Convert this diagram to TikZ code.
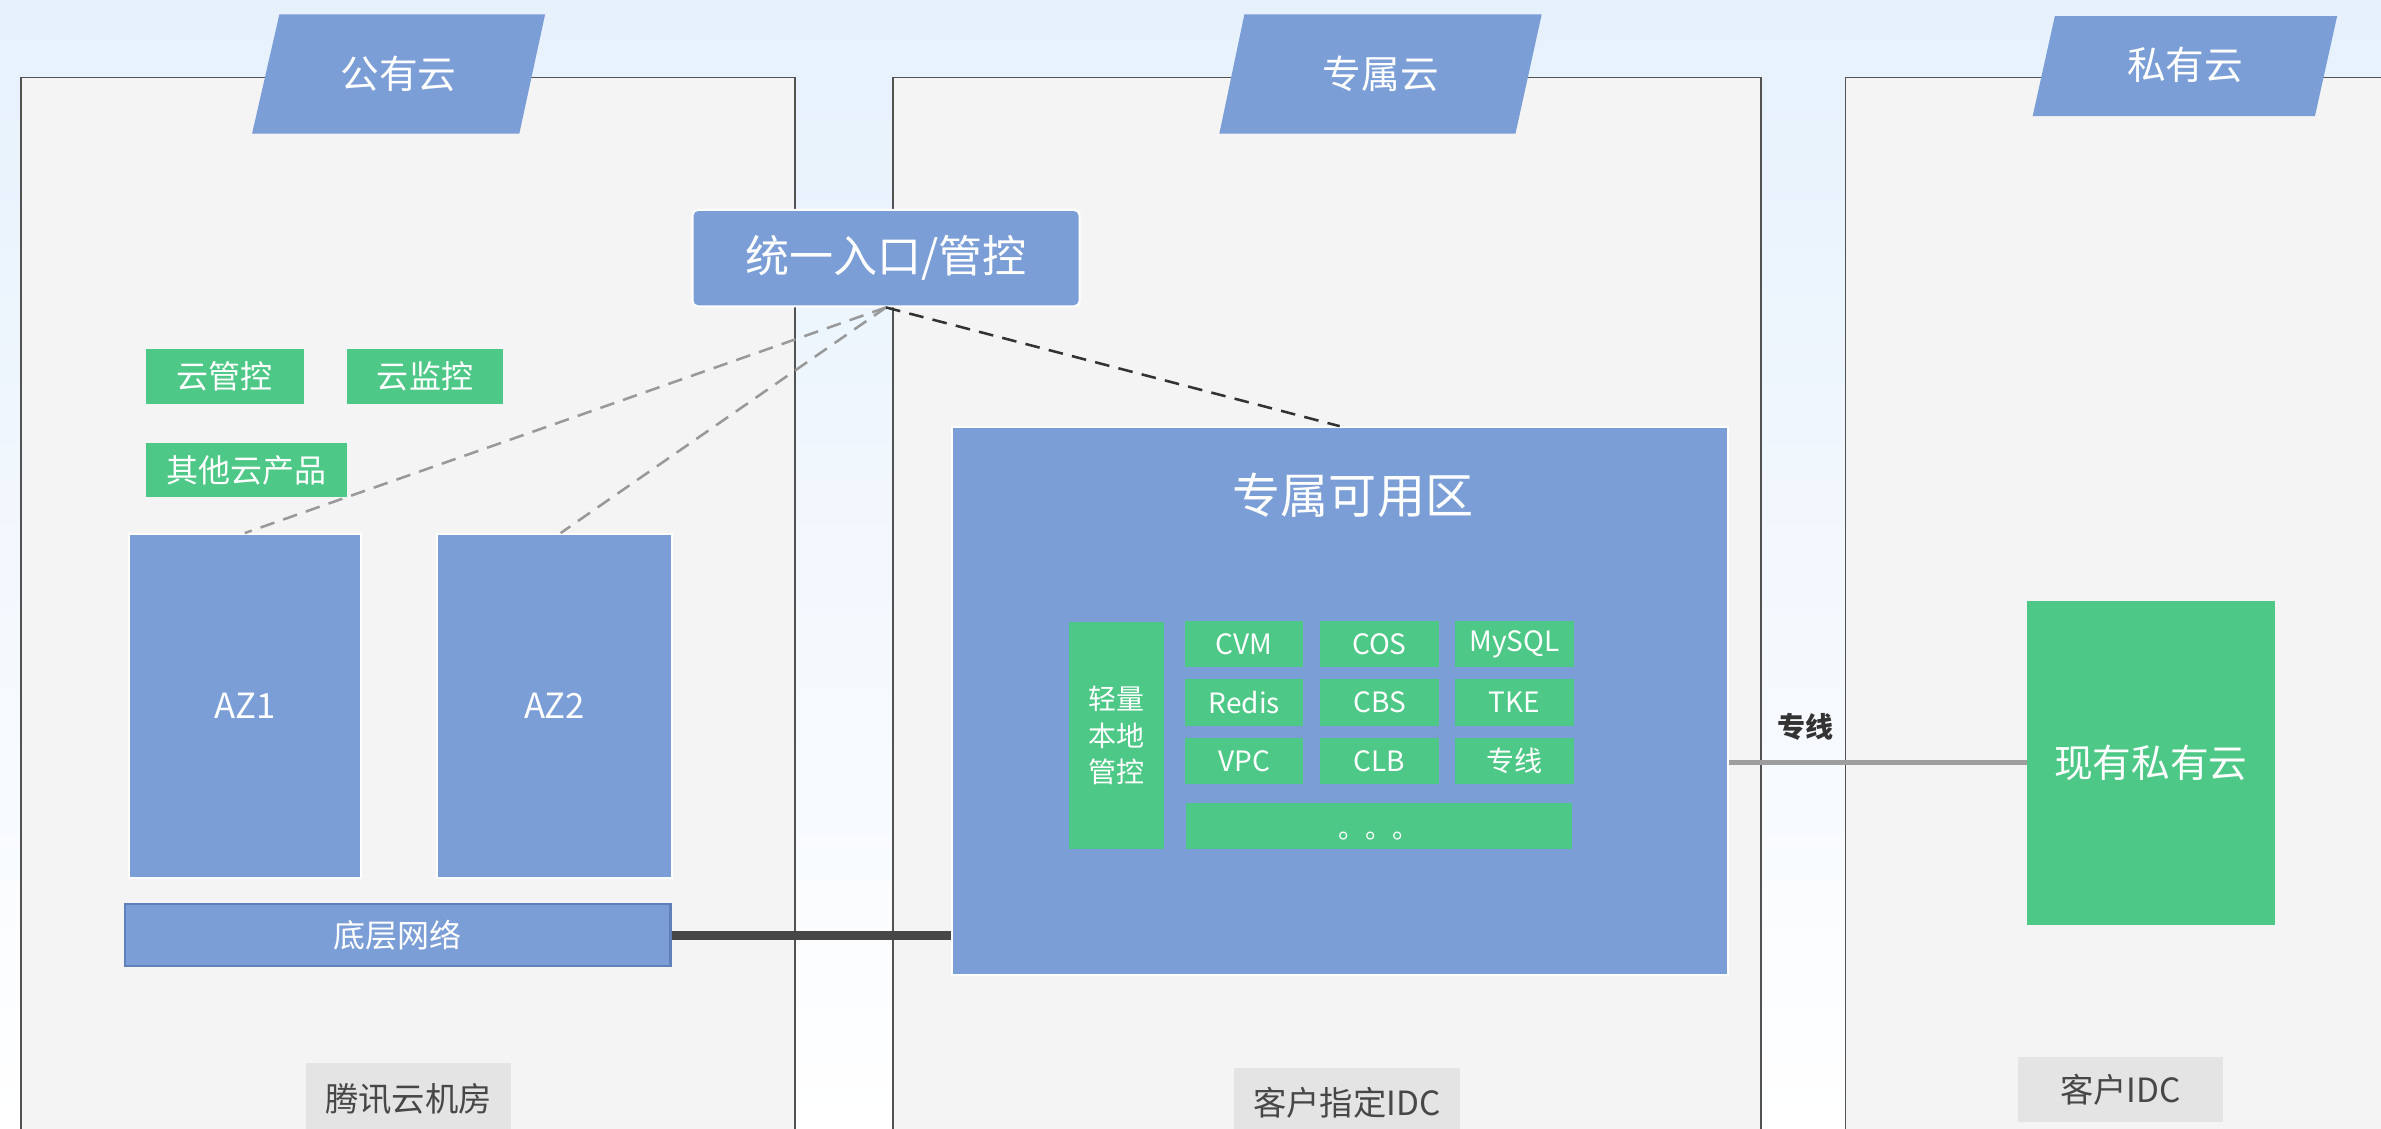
\documentclass[tikz,border=0pt]{standalone}
\usepackage{fontspec}
\setmainfont{Noto Sans CJK SC}
\usetikzlibrary{calc}

\definecolor{azblue}{HTML}{7B9ED6}
\definecolor{azdark}{HTML}{5F80B8}
\definecolor{svcgreen}{HTML}{4DC886}
\definecolor{panelgray}{HTML}{F4F4F4}
\definecolor{taggray}{HTML}{E4E4E4}
\definecolor{bgblue}{HTML}{E6F1FC}

\newcommand{\fsz}[1]{\fontsize{#1}{#1}\selectfont}

\tikzset{
	panel/.style={fill=panelgray, draw=black!68, line width=0.6pt},
	headbox/.style={fill=azblue},
	headtxt/.style={text=white, font=\fsz{14.5}},
	bluebox/.style={fill=azblue, draw=white, line width=0.8pt, text=white, inner sep=0pt},
	greenbox/.style={fill=svcgreen, text=white, inner sep=0pt},
	tagbox/.style={fill=taggray, text=black!72, inner sep=0pt, font=\fsz{12.5}},
	svc/.style={greenbox, minimum width=15.6mm, minimum height=6.1mm, font=\fsz{10.5}},
	ctrlline/.style={dash pattern=on 5.5pt off 3.5pt, line width=0.95pt},
}

\begin{document}
\begin{tikzpicture}[x=0.2mm, y=-0.2mm]
	\useasboundingbox (0,0) rectangle (1568,743);
	\clip (0,0) rectangle (1568,743);
	\shade[top color=bgblue, bottom color=white] (0,0) rectangle (1568,743);
	
	\draw[panel] (14,51) rectangle (523.6,780);
	\draw[panel] (588,51) rectangle (1159.7,780);
	\draw[panel] (1215.3,51) rectangle (1620,780);
	
	\fill[headbox] (166,88) -- (184,9.4) -- (359,9.4) -- (342,88) -- cycle;
	\node[headtxt] (pubhead) at (262.5,48.5) {公有云};
	\fill[headbox] (803,88) -- (819.5,9.4) -- (1015.3,9.4) -- (998,88) -- cycle;
	\node[headtxt] (dedhead) at (909.3,48.8) {专属云};
	\fill[headbox] (1338.6,76.4) -- (1353.2,10.6) -- (1539.1,10.6) -- (1524.5,76.4) -- cycle;
	\node[headtxt] (privhead) at (1439,42.9) {私有云};
	
	\node[bluebox, rounded corners=2pt, minimum width=51mm, minimum height=12.7mm, font=\fsz{16.5}] (entry) at (583.5,170) {统一入口/管控};
	
	\node[greenbox, minimum width=20.8mm, minimum height=7.2mm, font=\fsz{12}] (cmgr) at (148,247.8) {云管控};
	\node[greenbox, minimum width=20.5mm, minimum height=7.2mm, font=\fsz{12}] (cmon) at (279.9,247.8) {云监控};
	\node[greenbox, minimum width=26.5mm, minimum height=7.2mm, font=\fsz{12}] (cother) at (162.4,309.5) {其他云产品};
	
	\node[bluebox, minimum width=30.5mm, minimum height=45.3mm, font=\fsz{13}] (az1) at (161.2,465) {AZ1};
	\node[bluebox, minimum width=30.9mm, minimum height=45.3mm, font=\fsz{13}] (az2) at (365.2,465) {AZ2};
	\node[bluebox, draw=azdark, minimum width=71.9mm, minimum height=8.2mm, font=\fsz{12}] (net) at (261.8,615.8) {底层网络};
	
	\node[bluebox, minimum width=102.2mm, minimum height=72.2mm] (zone) at (882.25,461.85) {};
	\node[text=white, font=\fsz{18}] (zonetitle) at (891,326) {专属可用区};
	\node[greenbox, minimum width=12.5mm, minimum height=29.8mm, align=center, font=\fontsize{10.5}{13.6}\selectfont] (lctl) at (735,484.4) {轻量\\本地\\管控};
	\foreach \nm/\txt/\col/\row in {cvm/CVM/0/0, cos/COS/1/0, mysql/MySQL/2/0,
		redis/Redis/0/1, cbs/CBS/1/1, tke/TKE/2/1,
		vpc/VPC/0/2, clb/CLB/1/2, dline/专线/2/2}
		\node[svc] (\nm) at ({819.4+\col*89},{424.2+\row*38.5}) {\txt};
	\node[greenbox, minimum width=50.8mm, minimum height=6mm] (more) at (908,543.9) {};
	\node[text=white, font=\fsz{10}, anchor=base, inner sep=0pt] (dots) at (908,552) {。。。};
	
	\node[greenbox, minimum width=32.6mm, minimum height=42.6mm, font=\fsz{14.5}] (priv) at (1416.4,502.4) {现有私有云};
	
	\node[tagbox, minimum width=27mm, minimum height=9.6mm] (idc1) at (269,724) {腾讯云机房};
	\node[tagbox, minimum width=29.7mm, minimum height=9.2mm] (idc2) at (887,726) {客户指定IDC};
	\node[tagbox, minimum width=26.9mm, minimum height=8.6mm] (idc3) at (1396.4,717.6) {客户IDC};
	
	\draw[ctrlline, draw=black!40] (entry.south) -- (az1.north);
	\draw[ctrlline, draw=black!40] (entry.south) -- ($(az2.north)+(4,0)$);
	\draw[ctrlline, draw=black!80] (entry.south) -- (zone.north);
	\draw[line width=1.2mm, draw=black!72] (net.east) -- (net.east -| zone.west);
	\draw[line width=0.65mm, draw=black!38] (priv.west) -- (priv.west -| zone.east);
	\node[font=\bfseries\fsz{10.5}, text=black!80] (dlinelabel) at (1189,478.7) {专线};
\end{tikzpicture}
\end{document}
